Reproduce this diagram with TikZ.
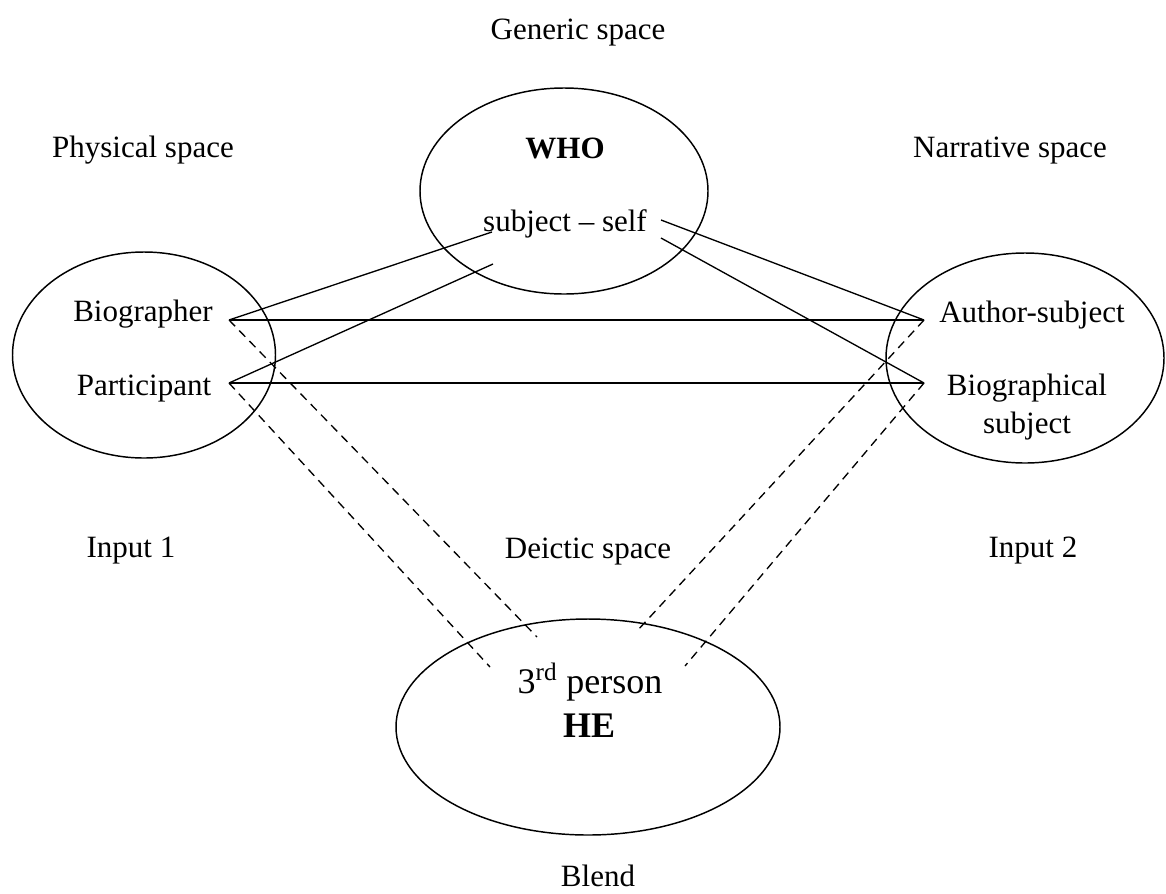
\documentclass[tikz,border=0pt]{standalone}
\usepackage{fontspec}
\setmainfont{Liberation Serif}
\usetikzlibrary{shapes.geometric}
\begin{document}
\begin{tikzpicture}[x=0.75pt,y=-0.75pt,
  lbl/.style={anchor=base,inner sep=0pt,font=\fontsize{23.25}{28}\selectfont},
  biglbl/.style={anchor=base,inner sep=0pt,font=\fontsize{27}{32}\selectfont},
  space/.style={draw,ellipse,line width=1.1pt,inner sep=0pt},
  link/.style={line width=1pt},
  dlink/.style={line width=1pt,dash pattern=on 6.5pt off 4.5pt}]
\useasboundingbox (0,0) rectangle (1166,893);

% spaces (sizes in pt: 0.75pt per unit)
\node[space,minimum width=216pt,minimum height=154.5pt] (gen) at (564,191) {};
\node[space,minimum width=197.25pt,minimum height=154.5pt] (in1) at (144,355) {};
\node[space,minimum width=208.5pt,minimum height=157.5pt] (in2) at (1025,358) {};
\node[space,minimum width=288pt,minimum height=162pt] (bl) at (588,727) {};

% titles
\node[lbl] (tgen) at (578,39) {Generic space};
\node[lbl] (tphy) at (143,157) {Physical space};
\node[lbl] (tnar) at (1010,157) {Narrative space};
\node[lbl] (tin1) at (131,557) {Input 1};
\node[lbl] (tdei) at (588,558) {Deictic space};
\node[lbl] (tin2) at (1033,557) {Input 2};
\node[lbl] (tbl) at (598,886) {Blend};

% contents
\node[lbl,font=\fontsize{23.25}{28}\selectfont\bfseries] (who) at (565,158) {WHO};
\node[lbl] (subj) at (565,231) {subject -- self};
\node[lbl] (bio) at (143,321) {Biographer};
\node[lbl] (par) at (144,395) {Participant};
\node[lbl] (aut) at (1032,322) {Author-subject};
\node[lbl] (bgs) at (1027,395) {Biographical};
\node[lbl] (bgs2) at (1027,433) {subject};
\node[biglbl] (third) at (590,693) {3\textsuperscript{rd} person};
\node[biglbl,font=\fontsize{27}{32}\selectfont\bfseries] (he) at (589,737) {HE};

% connector end points
\coordinate (bioE) at (229,320);
\coordinate (parE) at (229,383);
\coordinate (autW) at (924,320);
\coordinate (bgsW) at (924,383);
\coordinate (subjA) at (492,232);
\coordinate (subjB) at (493,264);
\coordinate (subjC) at (661,220);
\coordinate (subjD) at (661,238);
\coordinate (blA) at (537,637);
\coordinate (blB) at (490,667);
\coordinate (blC) at (637,631);
\coordinate (blD) at (685,666);

% cross-space mappings
\draw[link] (bioE) -- (autW);
\draw[link] (parE) -- (bgsW);
\draw[link] (bioE) -- (subjA);
\draw[link] (parE) -- (subjB);
\draw[link] (autW) -- (subjC);
\draw[link] (bgsW) -- (subjD);

% projections into the blend
\draw[dlink] (bioE) -- (blA);
\draw[dlink] (parE) -- (blB);
\draw[dlink] (autW) -- (blC);
\draw[dlink] (bgsW) -- (blD);
\end{tikzpicture}
\end{document}
